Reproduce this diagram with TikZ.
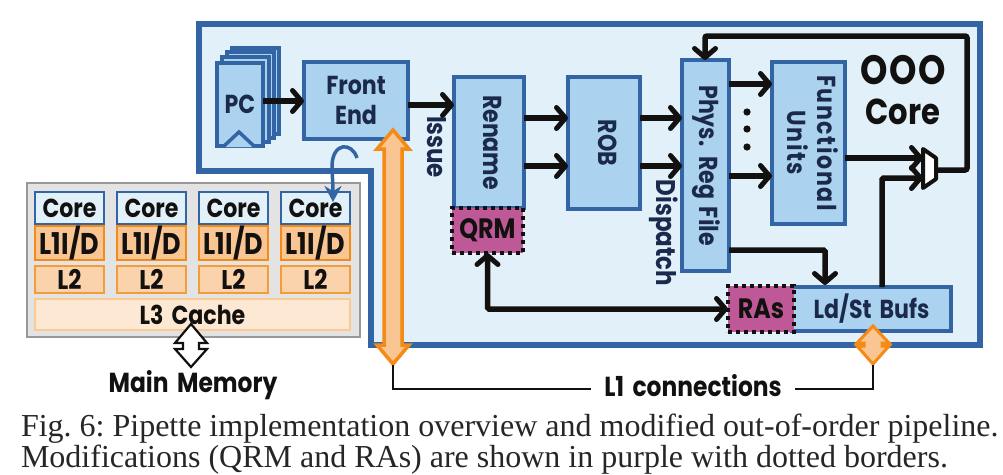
\documentclass[tikz,border=0pt]{standalone}
\usepackage{fontspec}
\usepackage{graphicx}
\setmainfont[FakeStretch=0.85,WordSpace=1.7]{Poppins}
\newfontfamily\capfont{Liberation Serif}
\usetikzlibrary{arrows.meta,calc}
\definecolor{cblue}{HTML}{3365A5}
\definecolor{cfill}{HTML}{ABD2EE}
\definecolor{cbg}{HTML}{E2F1F9}
\definecolor{corange}{HTML}{F58A14}
\definecolor{cofill}{HTML}{F9C592}
\definecolor{cpurple}{HTML}{BE5897}
\definecolor{cnavy}{HTML}{1B2A4C}
\definecolor{cblack}{HTML}{12110F}
\newcommand\pbox[6]{% name, x1,y1,x2,y2, style+text
  \pgfmathsetmacro\bx{(#2+#4)/2}\pgfmathsetmacro\by{(#3+#5)/2}
  \pgfmathsetmacro\bw{#4-#2}\pgfmathsetmacro\bh{#5-#3}
  \node[minimum width=\bw pt,minimum height=\bh pt,#6] (#1) at (\bx,\by)}
\newcommand\rtxt[1]{\rotatebox{-90}{\begin{tabular}{@{}c@{}}#1\end{tabular}}}
\newcommand\fsz[2]{\bfseries\fontsize{#1}{#2}\selectfont}
\tikzset{
  x=1pt,y=-1pt,
  every node/.style={inner sep=0pt,outer sep=0pt,font=\bfseries},
  unit/.style={draw=cblue,line width=4pt,fill=cfill,text=cnavy,font=\fsz{26}{30},align=center},
  modif/.style={draw=cblack,line width=4pt,dash pattern=on 4pt off 4pt,fill=cpurple,text=cblack,font=\fsz{28}{30}},
  barb/.tip={Straight Barb[length=9pt,width=21pt,line width=5pt,round]},
  arr/.style={draw=cblack,line width=5.5pt,rounded corners=1.5pt,-barb},
  minicore/.style={draw=cblue,line width=2.5pt,fill=cbg,text=cblack,font=\fsz{26}{28}},
  minil/.style={draw=corange,line width=2.5pt,fill=cofill,text=cblack,font=\fsz{30}{30}},
  minilb/.style={draw=corange!85!white,line width=2.5pt,fill=cofill!75!white,text=cblack,font=\fsz{27}{28}},
  thinline/.style={draw=cblack,line width=2pt},
  bigarrow/.style={draw=corange,line width=3.5pt,fill=cofill,line join=miter},
  lab/.style={text=cblack,font=\fsz{27.5}{30}},
  sidelab/.style={text=cnavy,font=\fsz{27}{28}},
  captext/.style={anchor=base west,text=black!85,font=\capfont\fontsize{32}{36}\selectfont\frenchspacing},
}
\begin{document}
\begin{tikzpicture}
\useasboundingbox (0,0) rectangle (1003,474);
% OOO core outline
\draw[cblue,line width=6pt,fill=cbg,line join=miter] (199,24) -- (980,24) -- (980,345) -- (371,345) -- (371,171) -- (199,171) -- cycle;
% PC stack
\foreach \nm/\a/\b/\c/\d in {a/232/48/279/134, b/227/52/274/138, c/222/57/269/142}{
  \pbox{pc\nm}{\a}{\b}{\c}{\d}{draw=cblue,line width=4pt,fill=cfill}{};
}
\pbox{pc}{217}{63}{263}{146}{draw=cblue,line width=4pt,fill=cfill,text=cnavy,font=\fsz{26}{28}}{PC};
\draw[cblue,line width=3.5pt,fill=cfill,line join=miter] (223,147) -- (239,132) -- (255,147);
% units
\pbox{fe}{304}{62}{408}{139}{unit}{Front\\End};
\pbox{ren}{454}{77}{524}{208}{unit}{\rtxt{Rename}};
\pbox{rob}{568}{77}{640}{209}{unit}{\rtxt{ROB}};
\pbox{prf}{682}{60}{729}{271}{unit}{\rtxt{Phys. Reg File}};
\pbox{fu}{772}{62}{845}{224}{unit}{\rtxt{\addfontfeature{LetterSpace=6}Functional\\\addfontfeature{LetterSpace=6}Units}};
\pbox{ls}{792}{287}{951}{331}{unit}{\fsz{26}{30}Ld/St Bufs};
\pbox{qrm}{452}{208}{523}{253}{modif}{QRM};
\pbox{ras}{728}{286}{794}{332}{modif}{RAs};
% labels
\node[sidelab,rotate=-90] (issue) at (437,147) {Issue};
\node[sidelab,rotate=-90] (disp) at (664,233) {Dispatch};
\node[text=cblack,align=center,font=\fsz{36}{40}] (ooo) at (903,90) {{\fontsize{41}{40}\selectfont\addfontfeature{LetterSpace=4}OOO}\\Core};
% dots
\foreach \nm/\yy in {d1/112,d2/129,d3/147}{\fill[cblack] (747,\yy) circle (3.6pt);}
% mux
\coordinate (muxa) at (923,149);
\coordinate (muxb) at (936,158);
\coordinate (muxc) at (936,179);
\coordinate (muxd) at (923,188);
\coordinate (muxout) at (936,170);
\coordinate (corner1) at (967,36);
\coordinate (corner2) at (705,36);
% arrows
\draw[arr] (pc.east |- 0,101) -- (fe.west |- 0,101);
\draw[arr] (fe.east |- 0,105) -- (ren.west |- 0,105);
\draw[arr] (ren.east |- 0,118) -- (rob.west |- 0,118);
\draw[arr] (ren.east |- 0,166) -- (rob.west |- 0,166);
\draw[arr] (rob.east |- 0,118) -- (prf.west |- 0,118);
\draw[arr] (rob.east |- 0,166) -- (prf.west |- 0,166);
\draw[arr] (prf.east |- 0,84) -- (fu.west |- 0,84);
\draw[arr] (prf.east |- 0,176) -- (fu.west |- 0,176);
\draw[arr] (fu.east |- 0,158) -- (muxa |- 0,158);
\draw[arr] (882,287) -- (882,178) -- (muxa |- 0,178);
\draw[arr,rounded corners=2pt] (muxout) -| (corner1) -- (corner2) -- (prf.north -| corner2);
\draw[arr] (prf.east |- 0,250) -| (825,285);
\draw[arr,barb-barb] (qrm.south) |- (ras.west);
\draw[draw=cblack,line width=4pt,fill=white,line join=round] (muxa) -- (muxb) -- (muxc) -- (muxd) -- cycle;
% cluster
\pbox{chip}{27}{183}{360}{337}{draw=black!40,line width=2pt,fill=black!11}{};
\foreach \n/\xa/\xb in {1/35/104,2/117/186,3/199/268,4/281/350}{
  \pbox{core\n}{\xa}{192}{\xb}{224}{minicore}{Core};
  \pbox{lone\n}{\xa}{227}{\xb}{259}{minil}{L1I/D};
  \pbox{ltwo\n}{\xa}{266}{\xb}{293}{minilb}{L2};
}
\pbox{lthree}{35}{299}{350}{330}{draw=corange!45!white,line width=2pt,fill=cofill!40!white,text=cblack,font=\fsz{26}{28}}{L3 Cache};
% memory arrow
\draw[draw=cblack,line width=2.2pt,fill=white,line join=miter] (191,324) -- (207,343) -- (199,343) -- (199,349) -- (207,349) -- (191,367) -- (175,349) -- (183,349) -- (183,343) -- (175,343) -- cycle;
\node[lab] (mem) at (193,385) {Main Memory};
% blue curved arrow
\coordinate (cs) at (357,158);
\draw[cblue,line width=3.5pt,-{Stealth[length=16pt,width=17pt]}] (cs) .. controls (352,142) and (333,142) .. (332,165) .. controls (332,172) and (333,185) .. (333,202);
% orange bus
\draw[bigarrow] (393,130) -- (409,149) -- (402,149) -- (402,345) -- (409,345) -- (393,364) -- (377,345) -- (384,345) -- (384,149) -- (377,149) -- cycle;
\coordinate (bustip) at (393,365);
\draw[bigarrow,line width=3pt] (873,326) -- (889,343) -- (882,343) -- (882,346) -- (889,346) -- (873,364) -- (857,346) -- (864,346) -- (864,343) -- (857,343) -- cycle;
\coordinate (diatip) at (873,365);
% L1 connections
\node[lab,inner xsep=13pt] (l1) at (693,386) {L1 connections};
\draw[thinline] (bustip) -- (393,389) -- (l1.west |- 0,389);
\draw[thinline] (diatip) -- (873,389) -- (l1.east |- 0,389);
% caption
\node[captext] (cap1) at (21,436) {Fig. 6: Pipette implementation overview and modified out-of-order pipeline.};
\node[captext] (cap2) at (21,467) {Modifications (QRM and RAs) are shown in purple with dotted borders.};
\end{tikzpicture}
\end{document}
